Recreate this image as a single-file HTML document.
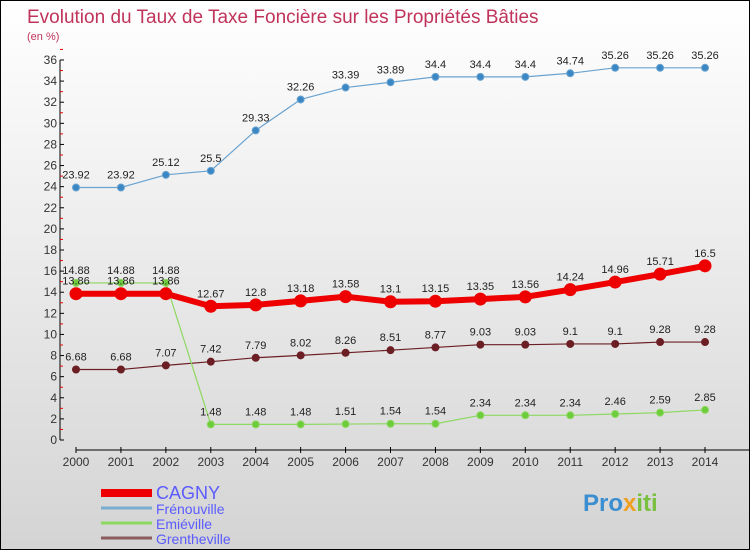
<!DOCTYPE html>
<html><head><meta charset="utf-8"><style>
body{margin:0}
#c{position:relative;width:748px;height:548px;border:1px solid #000;background:linear-gradient(#fff,#d4d4d4);font-family:"Liberation Sans",sans-serif;overflow:hidden}
</style></head><body>
<div id="c">
<svg id="s" width="748" height="548" xmlns="http://www.w3.org/2000/svg">
<text x="26" y="22" font-size="19" fill="#c0335a">Evolution du Taux de Taxe Foncière sur les Propriétés Bâties</text>
<text x="26" y="39" font-size="11" fill="#c0335a">(en %)</text>
<g id="ax"></g><g id="ser"></g>
</svg>
</div>
<script>
const years=[2000,2001,2002,2003,2004,2005,2006,2007,2008,2009,2010,2011,2012,2013,2014];
const cagny=[13.86,13.86,13.86,12.67,12.8,13.18,13.58,13.1,13.15,13.35,13.56,14.24,14.96,15.71,16.5];
const frenouville=[23.92,23.92,25.12,25.5,29.33,32.26,33.39,33.89,34.4,34.4,34.4,34.74,35.26,35.26,35.26];
const emieville=[14.88,14.88,14.88,1.48,1.48,1.48,1.51,1.54,1.54,2.34,2.34,2.34,2.46,2.59,2.85];
const grentheville=[6.68,6.68,7.07,7.42,7.79,8.02,8.26,8.51,8.77,9.03,9.03,9.1,9.1,9.28,9.28];
const yTicks=[0,2,4,6,8,10,12,14,16,18,20,22,24,26,28,30,32,34,36];
const NS="http://www.w3.org/2000/svg";
const X=i=>75+i*44.93, Y=v=>439-v*10.556;
function mk(p,t,a){const e=document.createElementNS(NS,t);for(const k in a)e.setAttribute(k,a[k]);p.appendChild(e);return e;}
const ax=document.getElementById('ax'), ser=document.getElementById('ser');
let l=mk(ax,'line',{x1:59,y1:Y(36),x2:59,y2:Y(0),stroke:'#000'});


l=mk(ax,'line',{x1:75,y1:449,x2:748,y2:449,stroke:'#000'});


yTicks.forEach(v=>{
 mk(ax,'line',{x1:59,y1:Y(v),x2:63,y2:Y(v),stroke:'#000'});
 mk(ax,'line',{x1:59,y1:Y(v+1),x2:62,y2:Y(v+1),stroke:'#e00'});
 const t=mk(ax,'text',{x:56,y:Y(v)+4,'font-size':12,'text-anchor':'end',fill:'#333'});
 t.textContent=v;
 
 
});
years.forEach((y,i)=>{
 mk(ax,'line',{x1:X(i),y1:446,x2:X(i),y2:452,stroke:'#000'});
 const t=mk(ax,'text',{x:X(i),y:465,'font-size':12,'text-anchor':'middle',fill:'#333'});
 t.textContent=y;
 
 
});
function series(name,data,color,w,r,dot){
 const g=mk(ser,'g',{});
 
 
 const p=mk(g,'polyline',{points:data.map((v,i)=>X(i)+','+Y(v)).join(' '),fill:'none',stroke:color,'stroke-width':w});
 
 
 data.forEach((v,i)=>{
  const c=mk(g,'circle',{cx:X(i),cy:Y(v),r:r,fill:dot,stroke:color});
  
  
  const t=mk(g,'text',{x:X(i),y:Y(v)-9,'font-size':11,'text-anchor':'middle',fill:'#222'});
  t.textContent=v;
  
  
 });
}
series('frenouville',frenouville,'#6aa3d0',1.2,3.5,'#3b87c4');
series('grentheville',grentheville,'#6b1e24',1.2,3.5,'#6b1e24');
series('emieville',emieville,'#8dd860',1.2,3.5,'#6dcc3c');
series('cagny',cagny,'#ee0000',6,6,'#ee0000');
const leg=[['CAGNY','#ee0000',8,18],['Frénouville','#7aaed0',3,14],['Emiéville','#8dd860',3,14],['Grentheville','#8b5c5c',3,14]];
leg.forEach((d,i)=>{
 const y=492+i*15;
 const r=mk(ser,'rect',{x:100,y:y-d[2]/2,width:51,height:d[2],fill:d[1]});
 
 
 const t=mk(ser,'text',{x:155,y:y+6,'font-size':d[3],fill:'#5b5bff'});
 t.textContent=d[0];
 
 
});
</script>
<div style="position:absolute;left:583px;top:490px;font:bold 24px 'Liberation Sans',sans-serif;color:#3b8fd0">Pro<span style="color:#f0a020">x</span><span style="color:#7ac040">iti</span></div>
</body></html>
